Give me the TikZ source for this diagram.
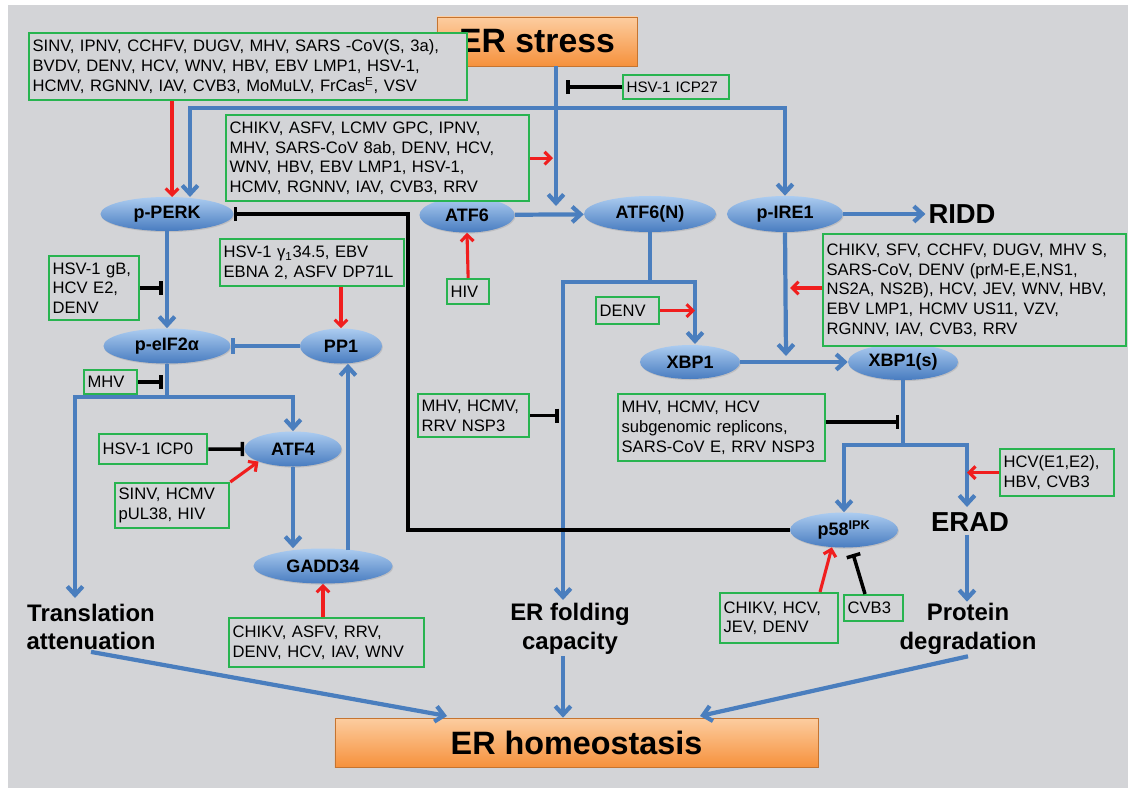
\documentclass[tikz,border=0pt]{standalone}
\usepackage{fontspec}
\setmainfont{Liberation Sans}
\usepackage{tikz}
\usetikzlibrary{arrows.meta,shapes.geometric,positioning,shadows}
\usepackage{xcolor}
\definecolor{panelgray}{RGB}{211,212,215}
\definecolor{flowblue}{RGB}{74,126,190}
\definecolor{ellipsetop}{RGB}{172,204,240}
\definecolor{ellipsebot}{RGB}{72,124,192}
\definecolor{boxgreen}{RGB}{40,180,80}
\definecolor{actred}{RGB}{240,30,30}
\definecolor{orangetop}{RGB}{252,205,160}
\definecolor{orangebot}{RGB}{246,145,60}

\begin{document}
\begin{tikzpicture}[x=0.025cm,y=-0.025cm]
	% Styles used throughout the picture.
	\tikzstyle{protein}=[ellipse, inner sep=0pt, top color=ellipsetop, bottom color=ellipsebot, font=\bfseries\fontsize{12.8}{14}\selectfont, drop shadow={opacity=0.25,shadow xshift=0.6pt,shadow yshift=-0.8pt}]
	\tikzstyle{virus box}=[draw=boxgreen, line width=1.6pt, fill=panelgray, anchor=north west, align=left, inner xsep=2.5pt, inner ysep=0pt, font=\fontsize{11.8}{14}\selectfont]
	\tikzstyle{orange box}=[rectangle, inner sep=0pt, top color=orangetop, bottom color=orangebot, draw=orangebot!80!black, line width=0.4pt, font=\bfseries\fontsize{23}{26}\selectfont, drop shadow={opacity=0.3,shadow xshift=1pt,shadow yshift=-1pt}]
	\tikzstyle{outcome}=[inner sep=1pt, align=center, font=\bfseries\fontsize{17}{20.5}\selectfont]
	\tikzstyle{branch}=[inner sep=2pt, font=\bfseries\fontsize{19.5}{22}\selectfont]
	\tikzstyle{blue line}=[draw=flowblue, line width=3pt]
	\tikzstyle{blue flow}=[blue line, -{Straight Barb[length=6pt,width=11pt]}]
	\tikzstyle{blue inhibit}=[blue line, -{Bar[width=11pt]}]
	\tikzstyle{red arrow}=[draw=actred, line width=2.2pt, -{Straight Barb[length=4.5pt,width=9pt]}]
	\tikzstyle{inhibit}=[draw=black, line width=2.5pt, -{Bar[width=10pt]}]

	% Fix the frame and paint the grey panel.
	\useasboundingbox (0,0) rectangle (1128,788);
	\fill[white] (0,0) rectangle (1128,788);
	\fill[panelgray] (8,5) rectangle (1128,788);

	% The start and the end of the pathway.
	\node[orange box, minimum width=5cm, minimum height=1.225cm, font=\bfseries\fontsize{24}{27}\selectfont] (stress) at (537,41.5) {ER stress};
	\node[orange box, minimum width=12.075cm, minimum height=1.225cm] (homeo) at (576.5,742.5) {ER homeostasis};

	% The three sensors and what follows them.
	\node[protein, minimum width=3.325cm, minimum height=0.85cm] (perk) at (167,214) {p-PERK};
	\node[protein, minimum width=2.375cm, minimum height=0.875cm] (atfsix) at (467,215) {ATF6};
	\node[protein, minimum width=3.3cm, minimum height=0.9cm] (atfsixn) at (650,214) {ATF6(N)};
	\node[protein, minimum width=2.9cm, minimum height=0.9cm] (ire) at (785,214) {p-IRE1};
	\node[protein, minimum width=3.175cm, minimum height=0.875cm] (eif) at (167,346) {p-eIF2α};
	\node[protein, minimum width=2.05cm, minimum height=0.875cm] (ppone) at (341,346) {PP1};
	\node[protein, minimum width=2.5cm, minimum height=0.85cm] (xbp) at (690,362) {XBP1};
	\node[protein, minimum width=2.75cm, minimum height=0.9cm] (xbps) at (903,362) {XBP1(s)};
	\node[protein, minimum width=2.425cm, minimum height=0.875cm] (atffour) at (293,449) {ATF4};
	\node[protein, minimum width=3.475cm, minimum height=0.875cm] (gadd) at (323,566) {GADD34};
	\node[protein, minimum width=2.7cm, minimum height=0.875cm] (pipk) at (844,530) {p58\textsuperscript{IPK}};

	\node[branch] (ridd) at (962,214) {RIDD};
	\node[branch] (erad) at (970,522) {ERAD};
	\node[outcome] (transl) at (91,627) {Translation\\attenuation};
	\node[outcome] (folding) at (570,629) {ER folding\\capacity};
	\node[outcome] (degrad) at (968,629) {Protein\\degradation};

	% Viral factors, in green boxes.
	\node[virus box, text width=10.775cm, minimum height=1.675cm] (vTop) at (28,32) {SINV, IPNV, CCHFV, DUGV, MHV, SARS -CoV(S, 3a),\\BVDV, DENV, HCV, WNV, HBV, EBV LMP1, HSV-1,\\HCMV, RGNNV, IAV, CVB3, MoMuLV, FrCas\textsuperscript{E}, VSV};
	\node[virus box, text width=2.475cm, minimum height=0.6cm, font=\fontsize{10.8}{13}\selectfont] (vICP) at (622,74) {HSV-1 ICP27};
	\node[virus box, text width=7.4cm, minimum height=2.15cm] (vMid) at (225,114) {CHIKV, ASFV, LCMV GPC, IPNV,\\MHV, SARS-CoV 8ab, DENV, HCV,\\WNV, HBV, EBV LMP1, HSV-1,\\HCMV, RGNNV, IAV, CVB3, RRV};
	\node[virus box, text width=7.4cm, minimum height=2.8cm] (vRight) at (822,233) {CHIKV, SFV, CCHFV, DUGV, MHV S,\\SARS-CoV, DENV (prM-E,E,NS1,\\NS2A, NS2B), HCV, JEV, WNV, HBV,\\EBV LMP1, HCMV US11, VZV,\\RGNNV, IAV, CVB3, RRV};
	\node[virus box, text width=2.075cm, minimum height=1.6cm] (vGB) at (48,255) {HSV-1 gB,\\HCV E2,\\DENV};
	\node[virus box, text width=4.425cm, minimum height=1.175cm] (vGamma) at (219,238) {HSV-1 γ\textsubscript{1}34.5, EBV\\EBNA 2, ASFV DP71L};
	\node[virus box, text width=1.15cm, minimum height=0.6cm] (vMHV) at (83,369) {MHV};
	\node[virus box, text width=0.875cm, minimum height=0.625cm] (vHIV) at (446,278) {HIV};
	\node[virus box, text width=1.4cm, minimum height=0.675cm] (vDENV) at (595,296) {DENV};
	\node[virus box, text width=2.6cm, minimum height=1.075cm] (vNSP) at (417,393) {MHV, HCMV,\\RRV NSP3};
	\node[virus box, text width=5cm, minimum height=1.675cm] (vSub) at (617,393) {MHV, HCMV, HCV\\subgenomic replicons,\\SARS-CoV E, RRV NSP3};
	\node[virus box, text width=2.525cm, minimum height=0.75cm] (vICPzero) at (98,433) {HSV-1 ICP0};
	\node[virus box, text width=2.675cm, minimum height=1.125cm] (vSINV) at (114,482) {SINV, HCMV\\pUL38, HIV};
	\node[virus box, text width=4.7cm, minimum height=1.225cm] (vGADD) at (228,617) {CHIKV, ASFV, RRV,\\DENV, HCV, IAV, WNV};
	\node[virus box, text width=2.675cm, minimum height=1.175cm] (vHCV) at (999,448) {HCV(E1,E2),\\HBV, CVB3};
	\node[virus box, text width=2.775cm, minimum height=1.25cm] (vJEV) at (719,592) {CHIKV, HCV,\\JEV, DENV};
	\node[virus box, text width=1.3cm, minimum height=0.65cm] (vCVB) at (843,594) {CVB3};

	% Points where connectors split or end on a line.
	\coordinate (split) at (556,108);
	\coordinate (atfsixtip) at (556,206);
	\coordinate (perkin) at (190,197);
	\coordinate (eifsplit) at (167,397);
	\coordinate (translin) at (75,598);
	\coordinate (gaddtop) at (348,550);
	\coordinate (nsplit) at (650,282);
	\coordinate (xbpin) at (695,344);
	\coordinate (foldin) at (563,600);
	\coordinate (irein) at (786,356);
	\coordinate (ssplit) at (903,445);
	\coordinate (eradin) at (967,507);
	\coordinate (homeoL) at (447,716);
	\coordinate (homeoR) at (700,716);

	% Draw the blue pathway.
	\draw[blue flow] (stress.south -| split) -- (atfsixtip);
	\draw[blue flow] (split) -| (perkin);
	\draw[blue flow] (split) -| (ire.north);
	\draw[blue flow] (atfsix) -- (atfsixn);
	\draw[blue flow] (ire) -- (ridd);
	\draw[blue flow] (perk) -- (eif);
	\draw[blue inhibit] (ppone) -- (eif);
	\draw[blue line] (eif.south) -- (eifsplit);
	\draw[blue flow] (eifsplit) -| (atffour.north);
	\draw[blue flow] (eifsplit) -| (translin);
	\draw[blue flow] (atffour.south) -- (atffour.south |- gadd.north);
	\draw[blue flow] (gaddtop) -- (gaddtop |- ppone.south);
	\draw[blue line] (atfsixn.south) -- (nsplit);
	\draw[blue flow] (nsplit) -| (xbpin);
	\draw[blue flow] (nsplit) -| (foldin);
	\draw[blue flow] (ire.south) -- (irein);
	\draw[blue flow] (xbp) -- (xbps);
	\draw[blue line] (xbps.south) -- (ssplit);
	\draw[blue flow] (ssplit) -| (pipk.north);
	\draw[blue flow] (ssplit) -| (eradin);
	\draw[blue flow] (erad.south -| eradin) -- (degrad.north -| eradin);
	\draw[blue flow] (transl.south) -- (homeoL);
	\draw[blue flow] (folding.south -| foldin) -- (homeo.north -| foldin);
	\draw[blue flow] (degrad.south) -- (homeoR);

	% Red arrows: viral factors that activate.
	\coordinate (redperk) at (172,197);
	\coordinate (midtip) at (553,158);
	\coordinate (irered) at (790,288);
	\coordinate (jevout) at (820,592);
	\draw[red arrow] (vTop.south -| redperk) -- (redperk);
	\draw[red arrow] (vMid.east) -- (vMid.east -| midtip);
	\draw[red arrow] (vHIV.north) -- (atfsix.south);
	\draw[red arrow] (ppone.north |- vGamma.south) -- (ppone.north);
	\draw[red arrow] (vDENV.east) -- (vDENV.east -| xbpin);
	\draw[red arrow] (vRight.west |- irered) -- (irered);
	\draw[red arrow] (vSINV.north east) -- (atffour.south west);
	\draw[red arrow] (gadd.south |- vGADD.north) -- (gadd.south);
	\draw[red arrow] (vHCV.west) -- (vHCV.west -| eradin);
	\draw[red arrow] (jevout) -- (pipk.235);

	% Black bars: viral factors that inhibit.
	\coordinate (icpbar) at (566,86);
	\coordinate (loopx) at (408,214);
	\coordinate (barL) at (163,280);
	\coordinate (barN) at (559,414);
	\coordinate (barS) at (899,422);
	\coordinate (cvbout) at (865,594);
	\coordinate (cvbbar) at (853,554);
	\draw[inhibit] (vICP.west) -- (vICP.west -| icpbar);
	\draw[inhibit] (pipk.west) -| (loopx) -- (perk.east);
	\draw[inhibit] (vGB.east) -- (vGB.east -| barL);
	\draw[inhibit] (vMHV.east) -- (vMHV.east -| barL);
	\draw[inhibit] (vICPzero.east) -- (atffour.west);
	\draw[inhibit] (vNSP.east) -- (vNSP.east -| barN);
	\draw[inhibit] (vSub.east |- barS) -- (barS);
	\draw[inhibit] (cvbout) -- (cvbbar);
\end{tikzpicture}
\end{document}
